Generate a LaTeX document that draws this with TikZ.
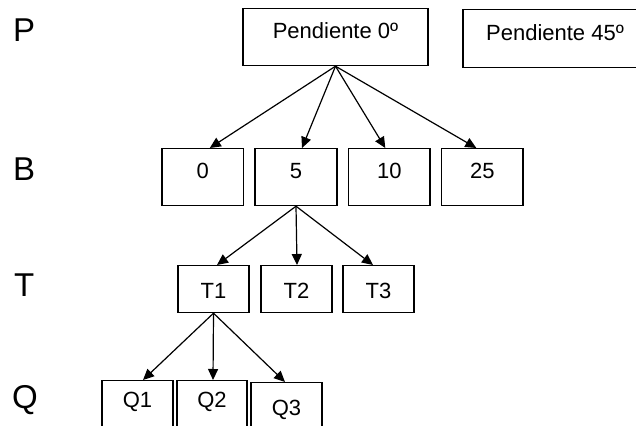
\documentclass[tikz,border=0pt]{standalone}
\usepackage{fontspec}
\setmainfont{Liberation Sans}
\usetikzlibrary{arrows.meta}
\tikzset{
  box/.style={draw=black, line width=1.2pt, inner xsep=0pt, inner ysep=0pt,
    font=\fontsize{22}{26}\selectfont, anchor=north},
  lev/.style={inner sep=0pt, font=\fontsize{33}{38}\selectfont, anchor=base west},
  arr/.style={line width=1.2pt, -{Triangle[length=11pt,width=10pt]}},
}
\begin{document}
\begin{tikzpicture}[x=1pt,y=-1pt]
\useasboundingbox (0,0) rectangle (636,425);
\clip (0,0) rectangle (636,425);
\fill[white] (0,0) rectangle (636,425);
% level labels
\node[lev] (lp) at (13,41.7) {P};
\node[lev] (lb) at (13,180) {B};
\node[lev] (lt) at (14,296) {T};
\node[lev] (lq) at (12,408) {Q};
% P row
\node[box, minimum width=185pt, text height=30pt, text depth=27pt] (p0) at (335.5,8) {Pendiente 0º};
\node[box, minimum width=184pt, text height=31pt, text depth=27pt] (p45) at (555,9) {Pendiente 45º};
% B row
\node[box, minimum width=81.7pt, text height=30.3pt, text depth=26.7pt] (b0) at (202.8,148) {0};
\node[box, minimum width=82pt, text height=30.3pt, text depth=26.7pt] (b5) at (296,148) {5};
\node[box, minimum width=81.3pt, text height=30.3pt, text depth=26.7pt] (b10) at (389.3,148) {10};
\node[box, minimum width=81.3pt, text height=30.3pt, text depth=26.7pt] (b25) at (482.3,148) {25};
% T row
\node[box, minimum width=71pt, text height=33.3pt, text depth=13.7pt] (t1) at (213.5,265) {T1};
\node[box, minimum width=71pt, text height=33.3pt, text depth=13.7pt] (t2) at (296.5,265) {T2};
\node[box, minimum width=71pt, text height=33.3pt, text depth=13.7pt] (t3) at (378.5,265) {T3};
% Q row
\node[box, minimum width=71pt, text height=26.7pt, text depth=40pt] (q1) at (137.5,380) {Q1};
\node[box, minimum width=70pt, text height=26.7pt, text depth=40pt] (q2) at (212,380) {Q2};
\node[box, minimum width=71pt, text height=33pt, text depth=40pt] (q3) at (286.5,382) {Q3};
% arrows
\draw[arr] (p0.south) -- ([xshift=7pt]b0.north);
\draw[arr] (p0.south) -- ([xshift=6pt]b5.north);
\draw[arr] (p0.south) -- ([xshift=-4pt]b10.north);
\draw[arr] (p0.south) -- ([xshift=-6pt]b25.north);
\draw[arr] (b5.south) -- ([xshift=3.5pt]t1.north);
\draw[arr] (b5.south) -- ([xshift=0.5pt]t2.north);
\draw[arr] (b5.south) -- ([xshift=-5.5pt]t3.north);
\draw[arr] (t1.south) -- ([xshift=5.5pt]q1.north);
\draw[arr] (t1.south) -- ([xshift=1pt]q2.north);
\draw[arr] (t1.south) -- ([xshift=-1.5pt]q3.north);
\end{tikzpicture}
\end{document}
